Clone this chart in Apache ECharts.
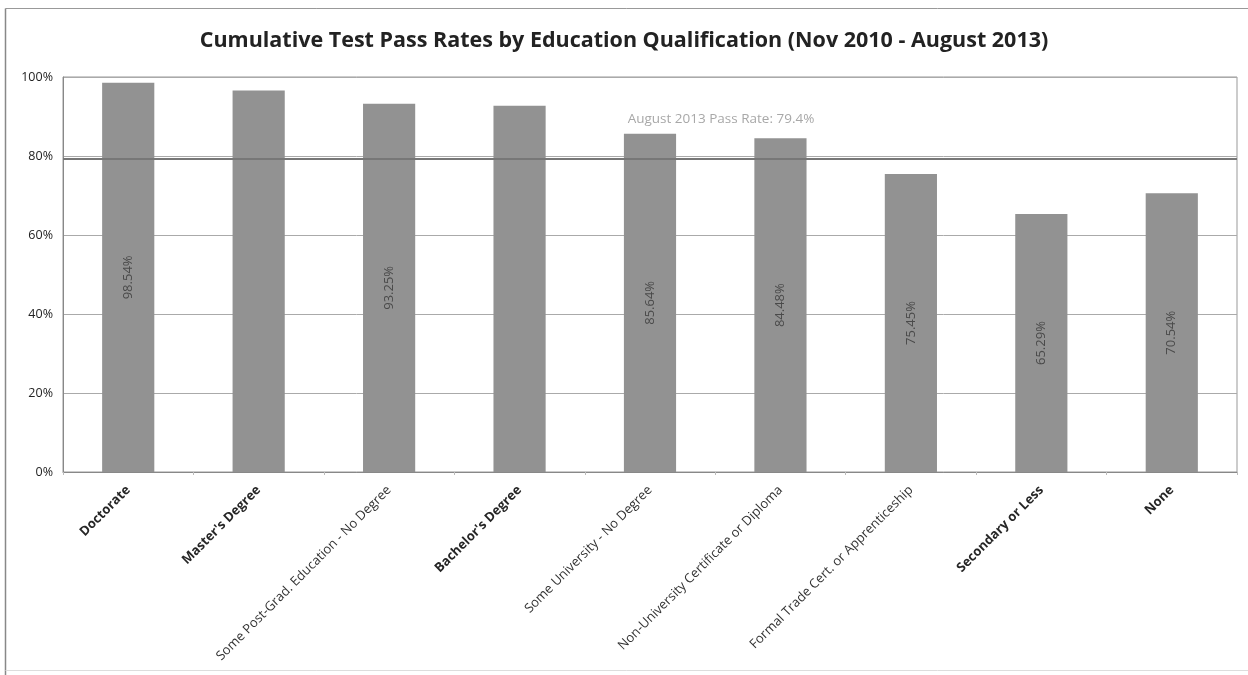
<!DOCTYPE html>
<html><head><meta charset="utf-8">
<script src="https://cdn.jsdelivr.net/npm/echarts@6/dist/echarts.min.js"></script>
<style>html,body{margin:0;padding:0;background:#fff}#c{width:1248px;height:675px}</style>
</head><body><div id="c"></div>
<script>
const categories = ["Doctorate","Master's Degree","Some Post-Grad. Education - No Degree","Bachelor's Degree","Some University - No Degree","Non-University Certificate or Diploma","Formal Trade Cert. or Apprenticeship","Secondary or Less","None"];
const passRates = [98.54, 96.6, 93.25, 92.7, 85.64, 84.48, 75.45, 65.29, 70.54];
const showLabel = [true, false, true, false, true, true, true, true, true];
const boldCategory = [true, true, false, true, false, false, false, true, true];
const overallRate = 79.4;
const yTicks = [0, 20, 40, 60, 80, 100];

const chart = echarts.init(document.getElementById('c'));
chart.setOption({
  animation: false,
  backgroundColor: '#fff',
  title: {
    text: 'Cumulative Test Pass Rates by Education Qualification (Nov 2010 - August 2013)',
    left: 'center', top: 25,
    textStyle: {fontFamily: 'Open Sans', fontWeight: 'bold', fontSize: 21.5, color: '#222'}
  },
  graphic: [
    {type: 'line', shape: {x1: 5.5, y1: 8.5, x2: 1248, y2: 8.5}, style: {stroke: '#999', lineWidth: 1}, silent: true},
    {type: 'line', shape: {x1: 5.5, y1: 8.5, x2: 5.5, y2: 675}, style: {stroke: '#888', lineWidth: 1.5}, silent: true},
    {type: 'line', shape: {x1: 5.5, y1: 670.5, x2: 1248, y2: 670.5}, style: {stroke: '#ddd', lineWidth: 1}, silent: true}
  ],
  grid: {left: 63, right: 11, top: 77, bottom: 203, show: true, borderColor: '#999', borderWidth: 1},
  xAxis: {
    type: 'category', data: categories,
    axisLine: {lineStyle: {color: '#888'}},
    axisTick: {show: true, length: 3, lineStyle: {color: '#bbb'}},
    axisLabel: {
      rotate: 45, interval: 0, margin: 16,
      formatter: (v, i) => boldCategory[i] ? '{b|' + v + '}' : '{n|' + v + '}',
      rich: {
        b: {fontFamily: 'Open Sans', fontSize: 13, fontWeight: 'bold', color: '#262626'},
        n: {fontFamily: 'Open Sans', fontSize: 13, color: '#333'}
      }
    }
  },
  yAxis: {
    type: 'value', min: 0, max: 100, interval: 20,
    axisLine: {show: true, lineStyle: {color: '#888'}},
    axisTick: {show: false},
    splitLine: {lineStyle: {color: '#aaa', width: 1}},
    axisLabel: {formatter: v => yTicks.includes(v) ? v + '%' : '', fontFamily: 'Open Sans', fontSize: 12.5, color: '#222', margin: 10}
  },
  series: [{
    type: 'bar', barWidth: '40%',
    data: passRates.map((v, i) => ({value: v, label: {show: showLabel[i]}})),
    itemStyle: {color: '#929292'},
    label: {position: 'inside', rotate: 90, formatter: p => p.value.toFixed(2) + '%', fontFamily: 'Open Sans', fontSize: 13, color: '#4a4a4a'},
    markLine: {
      silent: true, symbol: 'none',
      data: [{yAxis: overallRate}],
      lineStyle: {color: '#777', width: 2, type: 'solid'},
      label: {position: 'insideMiddleTop', formatter: 'August 2013 Pass Rate: 79.4%', offset: [71, -27], fontFamily: 'Open Sans', fontSize: 13.5, color: '#a8a8a8'}
    }
  }]
});
</script></body></html>
